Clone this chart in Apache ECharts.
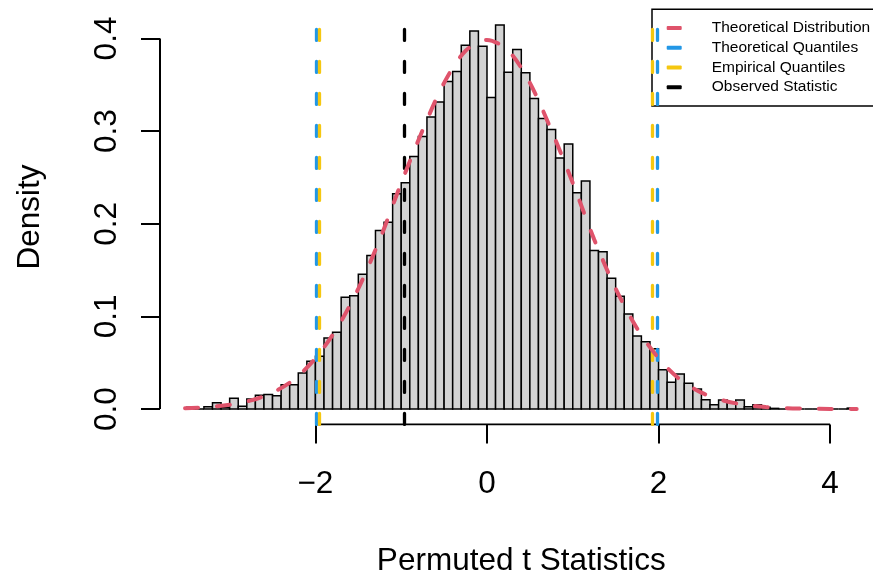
<!DOCTYPE html>
<html>
<head>
<meta charset="utf-8">
<script src="https://cdn.jsdelivr.net/npm/echarts@6/dist/echarts.min.js"></script>
<style>
html,body{margin:0;padding:0;background:#fff;}
#chart{width:873px;height:571px;}
</style>
</head>
<body>
<div id="chart"></div>
<script>
// ---- data ----
const binStart = -3.5;
const binWidth = 0.1;
// histogram densities for bins starting at -3.5, -3.4, ... , 4.2
const densities = [
  0.0020, 0.0000, 0.0025, 0.0068, 0.0018, 0.0115, 0.0029, 0.0108, 0.0148, 0.0158,
  0.0144, 0.0263, 0.0263, 0.0389, 0.0515, 0.0569, 0.0767, 0.0828, 0.1206, 0.1224,
  0.1454, 0.1656, 0.1926, 0.2016, 0.2325, 0.2444, 0.2725, 0.2941, 0.3153, 0.3315,
  0.3535, 0.3643, 0.3927, 0.4082, 0.3916, 0.3362, 0.4147, 0.3636, 0.3880, 0.3629,
  0.3351, 0.3135, 0.3017, 0.2711, 0.2862, 0.2336, 0.2462, 0.1710, 0.1699, 0.1411,
  0.1217, 0.1026, 0.0788, 0.0727, 0.0650, 0.0425, 0.0288, 0.0378, 0.0277, 0.0216,
  0.0101, 0.0047, 0.0097, 0.0072, 0.0097, 0.0025, 0.0047, 0.0018, 0.0007, 0.0000,
  0.0007, 0.0000, 0.0000, 0.0000, 0.0000, 0.0000, 0.0000, 0.0010
];
// theoretical density curve
const curveX = [-3.52, -3.25, -3.0, -2.75, -2.5, -2.25, -2.0, -1.75, -1.5, -1.25, -1.0, -0.75, -0.5, -0.25, 0.0,
                0.25, 0.5, 0.75, 1.0, 1.25, 1.5, 1.75, 2.0, 2.25, 2.5, 2.75, 3.0, 3.25, 3.5, 3.75, 4.0, 4.31];
const curveY = [0.0009, 0.0021, 0.0046, 0.0093, 0.0177, 0.0318, 0.0548, 0.0870, 0.1300, 0.1830, 0.2440, 0.3011, 0.3521, 0.3867, 0.3985,
                0.3867, 0.3521, 0.3011, 0.2440, 0.1830, 0.1300, 0.0870, 0.0548, 0.0318, 0.0177, 0.0093, 0.0046, 0.0021, 0.0009, 0.0004, 0.0001, 0.0000];
const theoreticalQuantiles = [-1.99, 1.98];
const empiricalQuantiles = [-1.955, 1.93];
const observedStatistic = [-0.96];
const xTicks = [-2, 0, 2, 4];
const yTicks = [0, 0.1, 0.2, 0.3, 0.4];
const xRange = [-3.812, 4.612];
const yRange = [-0.0166, 0.4313];

const FONT = '"Liberation Sans", Arial, Helvetica, sans-serif';
const RED = '#DF536B', BLUE = '#2297E6', YELLOW = '#F5C710';

const histData = densities.map((d, i) => [binStart + i * binWidth, d]);
const curveData = curveX.map((x, i) => [x, curveY[i]]);

function vLines(vals) { return vals.map(v => ({ xAxis: v })); }

const chart = echarts.init(document.getElementById('chart'), null, { renderer: 'canvas' });
chart.setOption({
  animation: false,
  backgroundColor: '#fff',
  grid: { left: 160, top: 9.5, width: 722.6, height: 414.9, containLabel: false, outerBoundsMode: 'none' },
  xAxis: {
    type: 'value', min: xRange[0], max: xRange[1],
    axisLine: { show: false, onZero: false },
    splitLine: { show: false },
    axisTick: { show: true, inside: false, customValues: xTicks, length: 19, lineStyle: { color: '#000', width: 2 } },
    axisLabel: { show: true, customValues: xTicks, margin: 44, fontSize: 31.5, color: '#000', fontFamily: FONT,
      formatter: v => (v < 0 ? '\u2212' + Math.abs(v) : String(v)) },
    name: 'Permuted t Statistics', nameLocation: 'middle', nameGap: 121,
    nameTextStyle: { fontSize: 31.5, color: '#000', fontFamily: FONT }
  },
  yAxis: {
    type: 'value', min: yRange[0], max: yRange[1],
    axisLine: { show: false, onZero: false },
    splitLine: { show: false },
    axisTick: { show: true, inside: false, customValues: yTicks, length: 19, lineStyle: { color: '#000', width: 2 } },
    axisLabel: { show: true, customValues: yTicks, rotate: 90, margin: 37, fontSize: 31.5, color: '#000', fontFamily: FONT,
      formatter: v => v.toFixed(1) },
    name: 'Density', nameLocation: 'middle', nameGap: 114, nameRotate: 90,
    nameTextStyle: { fontSize: 31.5, color: '#000', fontFamily: FONT }
  },
  legend: {
    orient: 'vertical', left: 652, top: 9.3,
    padding: [10.8, 40, 10.8, 14.7], itemGap: 3.7,
    itemWidth: 15, itemHeight: 4, icon: 'roundRect',
    borderColor: '#000', borderWidth: 1.5,
    textStyle: { fontSize: 15.5, lineHeight: 16, color: '#000', fontFamily: FONT, padding: [0, 0, 0, 25] },
    data: ['Theoretical Distribution', 'Theoretical Quantiles', 'Empirical Quantiles', 'Observed Statistic']
  },
  series: [
    {
      type: 'custom', name: 'hist', silent: true, z: 1,
      data: histData,
      renderItem: function (params, api) {
        const x0 = api.value(0), h = api.value(1);
        const p0 = api.coord([x0, 0]);
        const p1 = api.coord([x0 + binWidth, h]);
        return {
          type: 'rect',
          shape: { x: p0[0], y: p1[1], width: p1[0] - p0[0], height: p0[1] - p1[1] },
          style: { fill: '#D3D3D3', stroke: '#000', lineWidth: 1.5 }
        };
      }
    },
    { // x axis line from -2 to 4
      type: 'line', name: 'xaxisline', silent: true, symbol: 'none', z: 2,
      data: [[xTicks[0], yRange[0]], [xTicks[xTicks.length - 1], yRange[0]]],
      lineStyle: { color: '#000', width: 2 }
    },
    { // y axis line from 0 to 0.4
      type: 'line', name: 'yaxisline', silent: true, symbol: 'none', z: 2,
      data: [[xRange[0], yTicks[0]], [xRange[0], yTicks[yTicks.length - 1]]],
      lineStyle: { color: '#000', width: 2 }
    },
    {
      type: 'line', name: 'Theoretical Distribution', symbol: 'none', smooth: 0.3, z: 5,
      data: curveData, color: RED,
      lineStyle: { color: RED, width: 4, type: [13, 19], cap: 'round' }
    },
    {
      type: 'line', name: 'Theoretical Quantiles', data: [], color: BLUE, z: 6,
      markLine: { silent: true, symbol: 'none', label: { show: false }, animation: false,
        lineStyle: { color: BLUE, width: 3.3, type: [11, 21], cap: 'round' },
        data: vLines(theoreticalQuantiles) }
    },
    {
      type: 'line', name: 'Empirical Quantiles', data: [], color: YELLOW, z: 7,
      markLine: { silent: true, symbol: 'none', label: { show: false }, animation: false,
        lineStyle: { color: YELLOW, width: 3.3, type: [11, 21], cap: 'round' },
        data: vLines(empiricalQuantiles) }
    },
    {
      type: 'line', name: 'Observed Statistic', data: [], color: '#000', z: 8,
      markLine: { silent: true, symbol: 'none', label: { show: false }, animation: false,
        lineStyle: { color: '#000', width: 3.3, type: [11, 21], cap: 'round' },
        data: vLines(observedStatistic) }
    }
  ]
});
</script>
</body>
</html>
